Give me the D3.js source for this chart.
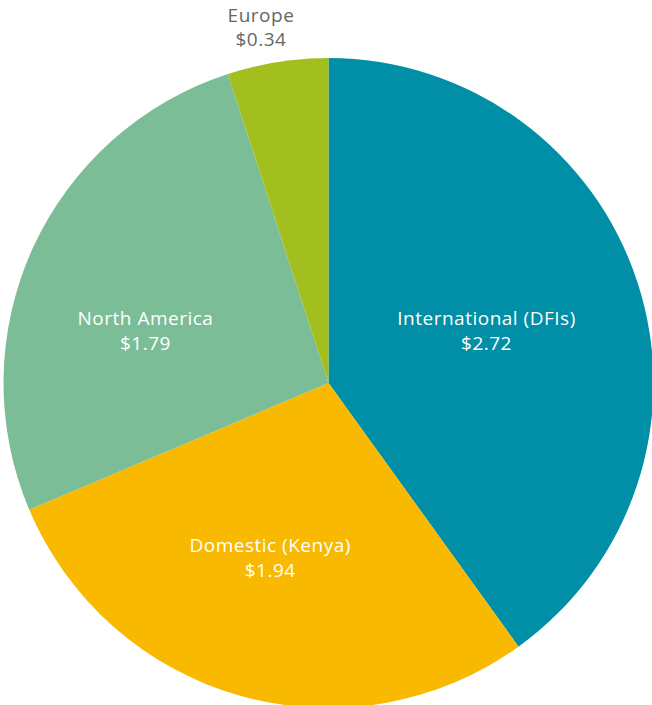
<!DOCTYPE html>
<html>
<head>
<meta charset="utf-8">
<script src="https://cdn.jsdelivr.net/npm/d3@7"></script>
<style>
  html, body { margin: 0; padding: 0; background: #fff; }
  svg { display: block; }
</style>
</head>
<body>
<svg id="chart" width="652" height="705"></svg>
<script>
// Funding sources (USD, billions)
const categories = ["International (DFIs)", "Domestic (Kenya)", "North America", "Europe"];
const values = [2.72, 1.94, 1.79, 0.34];
const colors = ["#008fa6", "#f8b900", "#7bbd96", "#a3be1f"];
const valueLabels = ["$2.72", "$1.94", "$1.79", "$0.34"];

const width = 652, height = 705;
const cx = 328.5, cy = 383, radius = 325;

const svg = d3.select("#chart");
const g = svg.append("g").attr("transform", `translate(${cx},${cy})`);

const data = categories.map((c, i) => ({ name: c, value: values[i], color: colors[i], label: valueLabels[i] }));

const pie = d3.pie().value(d => d.value).sort(null);
const arcs = pie(data);
const arc = d3.arc().innerRadius(0).outerRadius(radius);

g.selectAll("path.slice")
  .data(arcs)
  .join("path")
  .attr("class", "slice")
  .attr("d", arc)
  .attr("fill", d => d.data.color);

// Label anchors: radius and a small angular nudge (degrees) from each slice's mid-angle;
// the narrow slice gets its label outside the pie
const labelRadius = [166.4, 184, 190.3, 362];
const labelNudge = [-0.4, 2.85, -8.65, -1.74];

const labels = g.selectAll("text.lbl")
  .data(arcs)
  .join("text")
  .attr("class", "lbl")
  .attr("text-anchor", "middle")
  .attr("font-family", "'Open Sans', Lato, sans-serif")
  .attr("font-weight", 400)
  .attr("font-size", 19)
  .attr("letter-spacing", 0.5)
  .attr("fill", (d, i) => i === 3 ? "#666666" : "#ffffff")
  .attr("transform", (d, i) => {
    const a = (d.startAngle + d.endAngle) / 2 + labelNudge[i] * Math.PI / 180;
    const r = labelRadius[i];
    return `translate(${Math.sin(a) * r},${-Math.cos(a) * r})`;
  });

labels.append("tspan")
  .attr("x", 0)
  .attr("dy", "-0.3em")
  .text(d => d.data.name);

labels.append("tspan")
  .attr("x", 0)
  .attr("dy", "1.3em")
  .text(d => d.data.label);
</script>
</body>
</html>
